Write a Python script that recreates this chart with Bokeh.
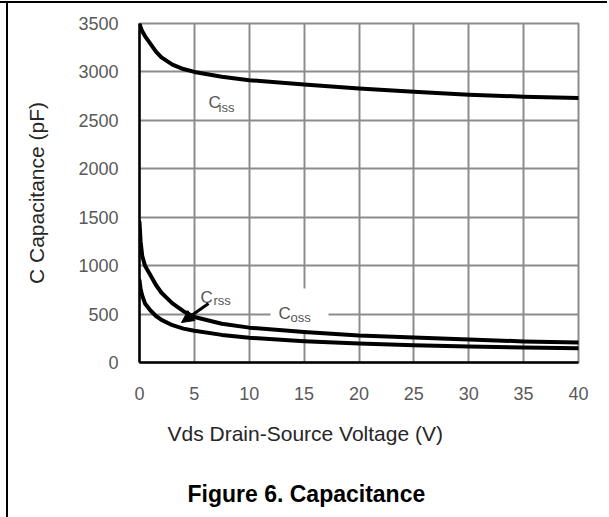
import numpy as np
from bokeh.plotting import figure
from bokeh.models import Range1d, Label, Arrow, NormalHead, FixedTicker, Title
from bokeh.embed import file_html
from bokeh.resources import INLINE

# ---- data ----
vds = [0, 0.1, 0.25, 0.5, 1, 1.5, 2, 3, 4, 5, 7.5, 10, 15, 20, 25, 30, 35, 40]
ciss = [3500, 3460, 3420, 3370, 3290, 3210, 3150, 3075, 3030, 3000, 2950, 2915, 2870, 2830, 2795, 2765, 2745, 2730]
coss = [1450, 1250, 1100, 1000, 900, 800, 720, 610, 530, 470, 400, 360, 315, 280, 258, 237, 218, 206]
crss = [850, 760, 690, 610, 537, 480, 440, 385, 350, 328, 285, 255, 220, 196, 178, 165, 155, 148]
x_ticks = [0, 5, 10, 15, 20, 25, 30, 35, 40]
y_ticks = [0, 500, 1000, 1500, 2000, 2500, 3000, 3500]

FONT = "Liberation Sans"

p = figure(frame_width=439, frame_height=339,
           x_range=Range1d(0, 40), y_range=Range1d(0, 3500),
           output_backend="svg", toolbar_location=None,
           min_border_left=139, min_border_right=29,
           min_border_top=23, min_border_bottom=153,
           styles={"box-shadow": "inset 0 1px 0 0 white, inset 0 3px 0 0 black, "
                                 "inset 6px 0 0 0 white, inset 8px 0 0 0 black"})
p.background_fill_color = "white"
p.border_fill_color = None

p.xaxis.ticker = FixedTicker(ticks=x_ticks)
p.yaxis.ticker = FixedTicker(ticks=y_ticks)
p.axis.major_tick_in = 0
p.axis.major_tick_out = 0
p.axis.minor_tick_line_color = None
p.axis.major_tick_line_color = None
p.axis.axis_line_color = "black"
p.axis.axis_line_width = 2.5
p.axis.major_label_text_font = FONT
p.axis.major_label_text_font_size = "18px"
p.axis.major_label_text_color = "#595959"
p.xaxis.major_label_standoff = 24
p.yaxis.major_label_standoff = 21

p.yaxis.axis_label = "C Capacitance (pF)"
p.yaxis.axis_label_standoff = 27
p.yaxis.axis_label_text_font = FONT
p.yaxis.axis_label_text_font_size = "21px"
p.yaxis.axis_label_text_font_style = "normal"
p.yaxis.axis_label_text_color = "#262626"

p.grid.grid_line_color = "#8c8c8c"
p.grid.grid_line_width = 2
p.outline_line_color = "#8c8c8c"
p.outline_line_width = 2

# white background box behind the Coss label
coss_box = dict(left=11.94, right=17.22, bottom=330, top=764)
p.quad(**coss_box, fill_color="white", line_color=None)

for ys in (ciss, coss, crss):
    p.line(vds, ys, line_width=4, line_color="black", line_join="round", line_cap="round")

# curve labels
def curve_label(x, y, xs, ys, sub):
    p.add_layout(Label(x=x, y=y, text="C", text_font=FONT, text_font_size="17px",
                       text_color="#555555", text_align="left", text_baseline="alphabetic"))
    p.add_layout(Label(x=xs, y=ys, text=sub, text_font=FONT, text_font_size="13px",
                       text_color="#555555", text_align="left", text_baseline="alphabetic"))

curve_label(6.29, 2684, 7.2, 2633, "iss")
curve_label(12.67, 506, 13.76, 465, "oss")
curve_label(5.56, 671, 6.74, 640, "rss")

p.add_layout(Arrow(end=NormalHead(size=12, fill_color="black", line_color="black"),
                   x_start=6.29, y_start=609, x_end=3.83, y_end=413,
                   line_width=3, line_color="black"))

# x axis title and figure caption (below the plot)
xlab = Title(text="Vds Drain-Source Voltage (V)", align="left", offset=28, standoff=35,
             text_font=FONT, text_font_size="21px", text_font_style="normal",
             text_color="#262626")
cap = Title(text="Figure 6. Capacitance", align="left", offset=48, standoff=32,
            text_font=FONT, text_font_size="23px", text_font_style="bold",
            text_color="black")
p.add_layout(xlab, "below")
p.add_layout(cap, "below")

open("out.html", "w").write(file_html(p, INLINE))
